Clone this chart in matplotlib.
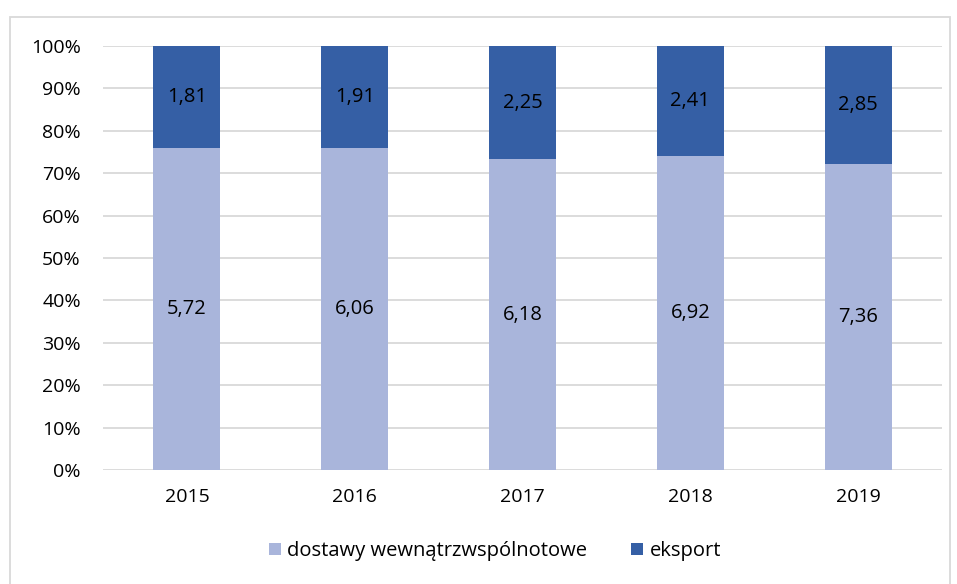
import numpy as np
import matplotlib.pyplot as plt
from matplotlib.patches import Rectangle
from matplotlib.ticker import PercentFormatter

# -----------------------------------
# Data
# -----------------------------------
years = ["2015", "2016", "2017", "2018", "2019"]
dostawy = [5.72, 6.06, 6.18, 6.92, 7.36]
eksport = [1.81, 1.91, 2.25, 2.41, 2.85]
labels = ["dostawy wewnątrzwspólnotowe", "eksport"]

LIGHT = "#A9B5DB"
DARK = "#355FA5"
GRID = "#D9D9D9"

plt.rcParams["font.family"] = ["Open Sans", "DejaVu Sans"]

d = np.array(dostawy)
e = np.array(eksport)
tot = d + e
d_sh = d / tot
e_sh = e / tot

# -----------------------------------
# Plot
# -----------------------------------
fig = plt.figure(figsize=(9.57, 5.84), dpi=100)
ax = fig.add_axes([103 / 957, 1 - 470 / 584, 839 / 957, 424 / 584])

x = np.arange(len(years))
b1 = ax.bar(x, d_sh, width=0.4, color=LIGHT, label=labels[0], zorder=3)
b2 = ax.bar(x, e_sh, width=0.4, bottom=d_sh, color=DARK, label=labels[1], zorder=3)

for i in range(len(years)):
    ax.text(x[i], d_sh[i] / 2, f"{dostawy[i]:.2f}".replace(".", ","),
            ha="center", va="center", fontsize=14.5, color="black", zorder=4)
    ax.text(x[i], d_sh[i] + e_sh[i] / 2, f"{eksport[i]:.2f}".replace(".", ","),
            ha="center", va="center", fontsize=14.5, color="black", zorder=4)

ax.set_xlim(-0.5, len(years) - 0.5)
ax.set_ylim(0, 1)
ax.set_yticks(np.arange(0, 1.01, 0.1))
ax.yaxis.set_major_formatter(PercentFormatter(1.0, decimals=0))
ax.set_xticks(x)
ax.set_xticklabels(years)
ax.tick_params(axis="both", length=0, labelsize=14, colors="black")
ax.tick_params(axis="y", pad=16)
ax.tick_params(axis="x", pad=13)

ax.grid(axis="y", color=GRID, linewidth=1.3, zorder=0)
for s in ax.spines.values():
    s.set_visible(False)

fig.legend(handles=[b1, b2], labels=labels, loc="center",
           bbox_to_anchor=(495 / 957, 1 - 551 / 584), ncol=2, frameon=False,
           fontsize=14.5, handlelength=0.6, handleheight=0.6,
           handletextpad=0.3, columnspacing=2.2)

# outer border
fig.patches.append(Rectangle((10 / 957, -0.01), 940 / 957, 1 - 17 / 584 + 0.01,
                             transform=fig.transFigure, fill=False,
                             edgecolor=GRID, linewidth=1.3))

fig.savefig("out.png", dpi=100)
plt.close()
